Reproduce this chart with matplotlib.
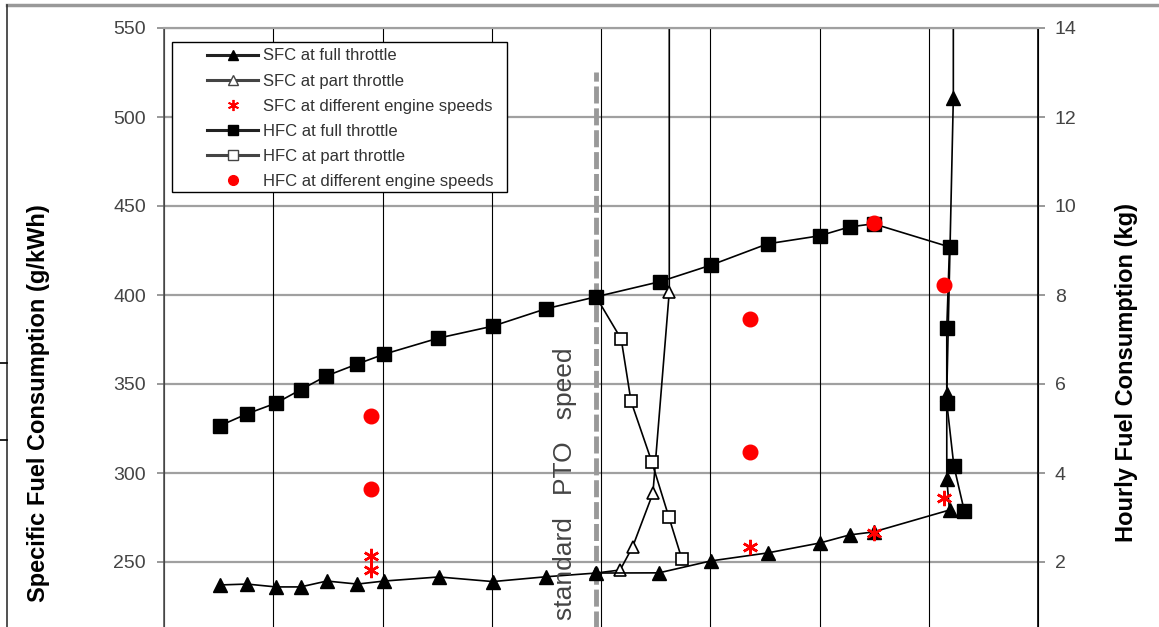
import matplotlib
matplotlib.use("Agg")
import matplotlib.pyplot as plt
from matplotlib.lines import Line2D
from matplotlib.patches import Rectangle

plt.rcParams['font.family'] = ['Liberation Sans', 'DejaVu Sans']

# --- datos (x: velocidad del motor, rpm estimadas) ---
sfc_full_x = [1102, 1152, 1205, 1250, 1298, 1354, 1403, 1503, 1602, 1699, 1791,
              1906, 2001, 2105, 2201, 2255, 2299, 2438, 2433, 2433, 2445, 2445]
sfc_full_y = [237.1, 237.6, 236.0, 236.0, 239.3, 237.6, 239.3, 241.6, 239.0, 241.7, 243.8,
              243.9, 250.6, 255.1, 260.7, 265.2, 266.9, 279.2, 296.6, 344.4, 510.7, 700]

sfc_part_x = [1791, 1835, 1858, 1895, 1925, 1925]
sfc_part_y = [243.8, 245.5, 258.6, 288.6, 401.9, 700]

sfc_speed_x = [1379, 1379, 2072, 2299, 2428]
sfc_speed_y = [253.4, 245.5, 258.6, 266.5, 285.8]

hfc_full_x = [1102, 1152, 1205, 1250, 1297, 1354, 1403, 1502, 1602, 1699, 1791,
              1908, 2001, 2105, 2200, 2255, 2299, 2438, 2433, 2433, 2446, 2465]
hfc_full_y = [5.06, 5.33, 5.57, 5.87, 6.18, 6.45, 6.67, 7.03, 7.30, 7.69, 7.96,
              8.30, 8.67, 9.15, 9.33, 9.53, 9.60, 9.08, 7.25, 5.58, 4.16, 3.15]

hfc_part_x = [1791, 1837, 1855, 1893, 1924, 1948]
hfc_part_y = [7.96, 7.01, 5.61, 4.25, 3.02, 2.07]

hfc_speed_x = [1379, 1379, 2072, 2072, 2299, 2428]
hfc_speed_y = [5.28, 3.64, 7.46, 4.47, 9.62, 8.23]

pto_speed = 1790

W, H = 1159, 627
fig = plt.figure(figsize=(W / 100, H / 100), dpi=100)

# ejes: el borde inferior queda fuera de la imagen (recortado)
left, right, top, bottom = 164, 1038, 28, 651
ax = fig.add_axes([left / W, 1 - bottom / H, (right - left) / W, (bottom - top) / H])
ax2 = ax.twinx()

ax.set_xlim(1000, 2600)
ax.set_ylim(200, 550)
ax2.set_ylim(0, 14)
ax.set_xticks(range(1000, 2601, 200))
ax.set_yticks(range(250, 551, 50))
ax2.set_yticks(range(2, 15, 2))
ax.tick_params(axis='x', labelbottom=False, length=0)
ax.tick_params(axis='y', direction='out', length=5, width=1.2, color='#888888',
               labelsize=14, labelcolor='#444444', pad=8)
ax2.tick_params(axis='y', direction='out', length=5, width=1.2, color='#888888',
                labelsize=14, labelcolor='#444444', pad=7)

# rejilla
for v in range(250, 551, 50):
    ax.axhline(v, color='#a0a0a0', lw=1.6, zorder=0.5)
ax.xaxis.grid(True, color='black', lw=0.8)
ax.set_axisbelow(True)

for a in (ax, ax2):
    a.spines['top'].set_color('#a0a0a0')
    a.spines['top'].set_linewidth(1.5)
    a.spines['bottom'].set_visible(False)
ax.spines['left'].set_color('#555555')
ax.spines['left'].set_linewidth(1.2)
ax2.spines['right'].set_color('black')
ax2.spines['right'].set_linewidth(1.2)
ax2.spines['left'].set_visible(False)

# linea de velocidad normalizada de la TDF
ax.axvline(pto_speed, ymin=0, ymax=0.929, color='#999999', lw=3.5,
           dashes=(3.5, 1.0), zorder=1)
fig.text(565 / W, 1 - 484 / H, 'standard   PTO   speed', rotation=90,
         ha='center', va='center', fontsize=19, color='#444444')

# SFC (eje izquierdo)
ax.plot(sfc_part_x, sfc_part_y, color='black', lw=1.2, marker='^', markersize=8.5,
        markerfacecolor='white', markeredgecolor='black', markeredgewidth=1.2, zorder=3)
ax.plot(sfc_full_x, sfc_full_y, color='black', lw=1.2, marker='^', markersize=9.5,
        zorder=4)
ax.plot(sfc_speed_x, sfc_speed_y, linestyle='none', marker=(6, 2, 0), markersize=11,
        markeredgecolor='red', markeredgewidth=1.8, zorder=5)

# HFC (eje derecho)
ax2.plot(hfc_part_x, hfc_part_y, color='black', lw=1.2, marker='s', markersize=9,
         markerfacecolor='white', markeredgecolor='black', markeredgewidth=1.2, zorder=3)
ax2.plot(hfc_full_x, hfc_full_y, color='black', lw=1.2, marker='s', markersize=10,
         zorder=4)
ax2.plot(hfc_speed_x, hfc_speed_y, linestyle='none', marker='o', markersize=10.5,
         color='red', zorder=5)

fig.text(39 / W, 1 - 403 / H, 'Specific Fuel Consumption (g/kWh)', rotation=90,
         ha='center', va='center', fontsize=17, fontweight='bold', color='black')
fig.text(1127 / W, 1 - 373 / H, 'Hourly Fuel Consumption (kg)', rotation=90,
         ha='center', va='center', fontsize=17, fontweight='bold', color='black')

# leyenda
handles = [
    Line2D([], [], color='#222222', lw=2.2, marker='^', markersize=7, markerfacecolor='black',
           markeredgecolor='black'),
    Line2D([], [], color='#444444', lw=2.2, marker='^', markersize=7, markerfacecolor='white',
           markeredgecolor='#444444'),
    Line2D([], [], linestyle='none', marker=(6, 2, 0), markersize=8, markeredgecolor='red',
           markeredgewidth=1.3),
    Line2D([], [], color='#222222', lw=2.2, marker='s', markersize=7, markerfacecolor='black',
           markeredgecolor='black'),
    Line2D([], [], color='#444444', lw=2.2, marker='s', markersize=7, markerfacecolor='white',
           markeredgecolor='#444444'),
    Line2D([], [], linestyle='none', marker='o', markersize=7, color='red'),
]
labels = ['SFC at full throttle', 'SFC at part throttle', 'SFC at different engine speeds',
          'HFC at full throttle', 'HFC at part throttle', 'HFC at different engine speeds']
fig.add_artist(Rectangle((172 / W, 1 - 192 / H), 335 / W, 150 / H, transform=fig.transFigure,
                         facecolor='white', edgecolor='black', lw=1.0, zorder=10))
leg = fig.legend(handles, labels, loc='upper left', bbox_to_anchor=(206.7 / W, 1 - 48.5 / H),
                 frameon=False, fontsize=12, borderpad=0, borderaxespad=0,
                 handlelength=3.1, handletextpad=0.28, labelspacing=0.61)
leg.set_zorder(11)
for t in leg.get_texts():
    t.set_color('#333333')

# marco de la figura original
fig.add_artist(Line2D([7 / W, 1], [1 - 5 / H, 1 - 5 / H], transform=fig.transFigure,
                      color='#999999', lw=2.5))
fig.add_artist(Line2D([7 / W, 7 / W], [0, 1 - 5 / H], transform=fig.transFigure,
                      color='#333333', lw=1.2))
for yy in (362.7, 440):
    fig.add_artist(Line2D([0, 7 / W], [1 - yy / H, 1 - yy / H], transform=fig.transFigure,
                          color='black', lw=1.2))

fig.savefig('out.png', dpi=100)
